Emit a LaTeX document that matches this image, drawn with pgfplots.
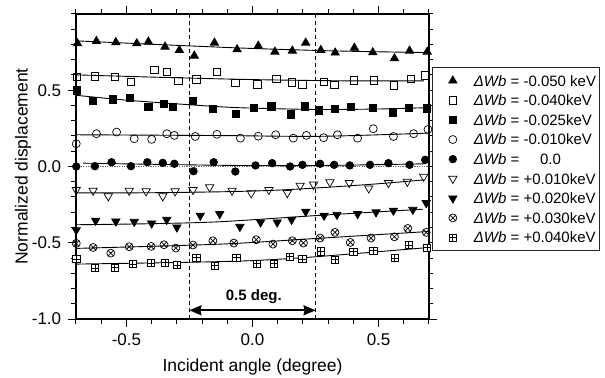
\documentclass[border=0pt]{standalone}
\usepackage{pgfplots}
\pgfplotsset{compat=1.18}
\usepackage{fontspec}
\setmainfont{Liberation Sans}
\usetikzlibrary{plotmarks,arrows.meta}

% square with a cross inside
\pgfdeclareplotmark{boxplus}{%
  \pgfpathrectangle{\pgfqpoint{-\pgfplotmarksize}{-\pgfplotmarksize}}{\pgfqpoint{2\pgfplotmarksize}{2\pgfplotmarksize}}%
  \pgfusepathqfillstroke
  \pgfpathmoveto{\pgfqpoint{-\pgfplotmarksize}{0pt}}%
  \pgfpathlineto{\pgfqpoint{\pgfplotmarksize}{0pt}}%
  \pgfpathmoveto{\pgfqpoint{0pt}{-\pgfplotmarksize}}%
  \pgfpathlineto{\pgfqpoint{0pt}{\pgfplotmarksize}}%
  \pgfusepathqstroke}

\newcommand\dwb{\textit{ΔWb}}

\begin{document}
\begin{tikzpicture}
\begin{axis}[
  at={(0,0)}, anchor=south west,
  scale only axis, width=353bp, height=305bp,
  xmin=-0.7, xmax=0.7, ymin=-1, ymax=1,
  xtick={-0.5,0,0.5}, ytick={-1,-0.5,0,0.5},
  minor xtick={-0.7,-0.6,...,0.71},
  minor ytick={-0.9,-0.8,...,0.95},
  tick align=outside,
  major tick length=8bp, minor tick length=4.5bp,
  axis line style={line width=1.1bp},
  every tick/.style={line width=1bp, black},
  /pgf/number format/assume math mode=true,
  /pgf/number format/.cd, fixed, fixed zerofill, precision=1, /pgfplots/.cd,
  tick label style={font=\fontsize{17bp}{20bp}\selectfont},
  xticklabel style={yshift=-3bp},
  yticklabel style={xshift=-3.3bp},
  xlabel={Incident angle (degree)},
  ylabel={Normalized displacement},
  label style={font=\fontsize{17.5bp}{21bp}\selectfont},
  xlabel style={at={(axis description cs:0.5,-0.157)}, anchor=center},
  ylabel style={at={(axis description cs:-0.150,0.5)}, anchor=center},
  legend cell align=left,
  legend image code/.code={%
    \draw[mark repeat=2,mark phase=2,#1] plot coordinates {(0bp,0bp) (17bp,0bp) (34bp,0bp)};
    \path (0bp,0bp) (34bp,0bp);},
  legend style={at={(axis description cs:1.0085,0.825)}, anchor=north west,
    draw=black!85, line width=1bp, inner xsep=3bp, inner ysep=7.5bp,
    row sep=8.9bp, column sep=3.7bp,
    font=\fontsize{15bp}{18bp}\selectfont,
    nodes={inner sep=0pt, text height=10.7bp, text depth=0pt}},
  fit/.style={black, line width=0.9bp, smooth, tension=0.5, forget plot},
  pts/.style={only marks, black, line width=0.7bp},
]

% fitted curves
\addplot[fit] coordinates {(-0.7,0.824) (-0.35,0.798) (0,0.774) (0.35,0.757) (0.7,0.747)};
\addplot[fit] coordinates {(-0.7,0.601) (-0.35,0.584) (0,0.570) (0.35,0.562) (0.68,0.561)};
\addplot[fit] coordinates {(-0.7,0.467) (-0.5,0.435) (-0.25,0.405) (-0.06,0.386) (0.25,0.374) (0.5,0.377) (0.7,0.386)};
\addplot[fit] coordinates {(-0.7,0.208) (-0.13,0.203) (0.27,0.198) (0.7,0.219)};
\addplot[fit] coordinates {(-0.672,0.022) (-0.3,0.012) (0,0.006) (0.3,0.007) (0.69,0.018)};
\addplot[fit] coordinates {(-0.7,-0.173) (-0.4,-0.172) (-0.1,-0.165) (0.1,-0.155) (0.3,-0.136) (0.5,-0.113) (0.68,-0.088)};
\addplot[fit] coordinates {(-0.7,-0.382) (-0.4,-0.375) (-0.127,-0.362) (0.25,-0.322) (0.676,-0.280)};
\addplot[fit] coordinates {(-0.7,-0.537) (-0.127,-0.509) (0.25,-0.472) (0.7,-0.426)};
\addplot[fit] coordinates {(-0.7,-0.640) (-0.25,-0.628) (0,-0.617) (0.25,-0.592) (0.7,-0.531)};

% reference lines
\draw[line width=0.9bp, dash pattern=on 4bp off 3bp] (axis cs:-0.25,-1) -- (axis cs:-0.25,1);
\draw[line width=0.9bp, dash pattern=on 4bp off 3bp] (axis cs:0.25,-1) -- (axis cs:0.25,1);
\draw[black!60, line width=0.9bp, dash pattern=on 1.2bp off 1.2bp] (axis cs:-0.7,0) -- (axis cs:0.7,0);

% measured points
\addplot[pts, mark=triangle*, mark size=4.8bp] coordinates {
 (-0.694,0.807) (-0.619,0.822) (-0.542,0.814) (-0.459,0.807) (-0.413,0.818)
 (-0.347,0.785) (-0.290,0.763) (-0.231,0.726) (-0.151,0.811) (-0.061,0.768)
 (0.023,0.791) (0.089,0.752) (0.158,0.759) (0.211,0.811) (0.271,0.763)
 (0.328,0.746) (0.404,0.778) (0.477,0.748) (0.563,0.709) (0.623,0.759) (0.693,0.752)};
\addlegendentry{\dwb{} = -0.050 keV}

\addplot[pts, mark=square, mark size=3.7bp, mark options={fill=white}] coordinates {
 (-0.696,0.588) (-0.625,0.592) (-0.546,0.588) (-0.483,0.555) (-0.390,0.632)
 (-0.340,0.620) (-0.294,0.561) (-0.223,0.572) (-0.141,0.620) (-0.068,0.548)
 (0.019,0.539) (0.094,0.574) (0.155,0.553) (0.198,0.539) (0.282,0.557)
 (0.324,0.537) (0.401,0.566) (0.481,0.566) (0.560,0.531) (0.627,0.574) (0.685,0.599)};
\addlegendentry{\dwb{} = -0.040keV}

\addplot[pts, mark=square*, mark size=3.7bp] coordinates {
 (-0.696,0.500) (-0.632,0.430) (-0.555,0.441) (-0.486,0.452) (-0.413,0.390)
 (-0.351,0.412) (-0.316,0.390) (-0.236,0.430) (-0.157,0.379) (-0.066,0.346)
 (0.005,0.386) (0.074,0.395) (0.151,0.342) (0.208,0.395) (0.262,0.368)
 (0.327,0.377) (0.390,0.390) (0.477,0.384) (0.556,0.355) (0.620,0.386) (0.692,0.380)};
\addlegendentry{\dwb{} = -0.025keV}

\addplot[pts, mark=o, mark size=4bp, mark options={fill=white}] coordinates {
 (-0.699,0.149) (-0.619,0.215) (-0.539,0.226) (-0.469,0.182) (-0.400,0.178)
 (-0.340,0.215) (-0.310,0.204) (-0.227,0.197) (-0.141,0.211) (-0.048,0.186)
 (0.023,0.199) (0.092,0.208) (0.162,0.186) (0.214,0.204) (0.282,0.189)
 (0.337,0.208) (0.417,0.186) (0.479,0.248) (0.559,0.197) (0.639,0.215) (0.696,0.243)};
\addlegendentry{\dwb{} = -0.010keV}

\addplot[pts, mark=*, mark size=3.8bp] coordinates {
 (-0.699,0.000) (-0.625,0.002) (-0.559,0.028) (-0.482,0.002) (-0.417,0.028)
 (-0.356,0.024) (-0.310,0.018) (-0.234,-0.031) (-0.154,0.028) (-0.068,-0.033)
 (0.012,0.007) (0.078,0.022) (0.149,0.000) (0.198,0.011) (0.268,0.018)
 (0.324,0.011) (0.386,0.007) (0.466,0.011) (0.539,0.022) (0.623,0.011) (0.685,0.044)};
\addlegendentry{\dwb{} = \hspace{1.1em}0.0}

\addplot[pts, mark=triangle, mark size=4.8bp, mark options={rotate=180, fill=white}] coordinates {
 (-0.699,-0.153) (-0.632,-0.158) (-0.572,-0.195) (-0.489,-0.158) (-0.422,-0.162)
 (-0.356,-0.195) (-0.307,-0.162) (-0.236,-0.153) (-0.170,-0.136) (-0.081,-0.158)
 (-0.005,-0.175) (0.065,-0.153) (0.138,-0.173) (0.189,-0.125) (0.242,-0.118)
 (0.307,-0.103) (0.384,-0.107) (0.461,-0.143) (0.539,-0.107) (0.614,-0.099) (0.679,-0.066)};
\addlegendentry{\dwb{} = +0.010keV}

\addplot[pts, mark=triangle*, mark size=4.8bp, mark options={rotate=180}] coordinates {
 (-0.699,-0.417) (-0.622,-0.355) (-0.542,-0.360) (-0.469,-0.362) (-0.400,-0.373)
 (-0.340,-0.349) (-0.300,-0.399) (-0.207,-0.322) (-0.130,-0.311) (-0.050,-0.395)
 (0.032,-0.366) (0.098,-0.366) (0.155,-0.349) (0.211,-0.296) (0.284,-0.322)
 (0.335,-0.316) (0.417,-0.311) (0.490,-0.300) (0.559,-0.289) (0.636,-0.283) (0.689,-0.239)};
\addlegendentry{\dwb{} = +0.020keV}

\addplot[pts, mark=otimes, mark size=4bp, mark options={fill=white}] coordinates {
 (-0.699,-0.504) (-0.632,-0.531) (-0.562,-0.568) (-0.489,-0.526) (-0.402,-0.524)
 (-0.351,-0.513) (-0.304,-0.535) (-0.236,-0.515) (-0.157,-0.487) (-0.074,-0.502)
 (0.015,-0.480) (0.081,-0.509) (0.158,-0.487) (0.202,-0.502) (0.268,-0.469)
 (0.327,-0.432) (0.388,-0.498) (0.470,-0.469) (0.563,-0.461) (0.616,-0.406) (0.689,-0.432)};
\addlegendentry{\dwb{} = +0.030keV}

\addplot[pts, mark=boxplus, mark size=3.6bp, mark options={fill=white}] coordinates {
 (-0.699,-0.607) (-0.625,-0.666) (-0.546,-0.662) (-0.475,-0.640) (-0.402,-0.634)
 (-0.347,-0.630) (-0.300,-0.645) (-0.223,-0.597) (-0.150,-0.651) (-0.064,-0.599)
 (0.016,-0.636) (0.085,-0.636) (0.147,-0.592) (0.198,-0.607) (0.271,-0.557)
 (0.328,-0.612) (0.400,-0.559) (0.479,-0.553) (0.563,-0.601) (0.620,-0.515) (0.693,-0.531)};
\addlegendentry{\dwb{} = +0.040keV}

% angular window
\draw[{Stealth[length=12bp,width=10bp,inset=1bp]}-{Stealth[length=12bp,width=10bp,inset=1bp]}, line width=1.8bp]
  (axis cs:-0.25,-0.943) -- (axis cs:0.25,-0.943);
\node[font=\bfseries\fontsize{15bp}{18bp}\selectfont] at (axis cs:0.005,-0.855) {0.5 deg.};
\end{axis}
\pgfresetboundingbox
\path[use as bounding box] (-76bp,-59bp) rectangle (529bp,319bp);
\end{tikzpicture}
\end{document}
